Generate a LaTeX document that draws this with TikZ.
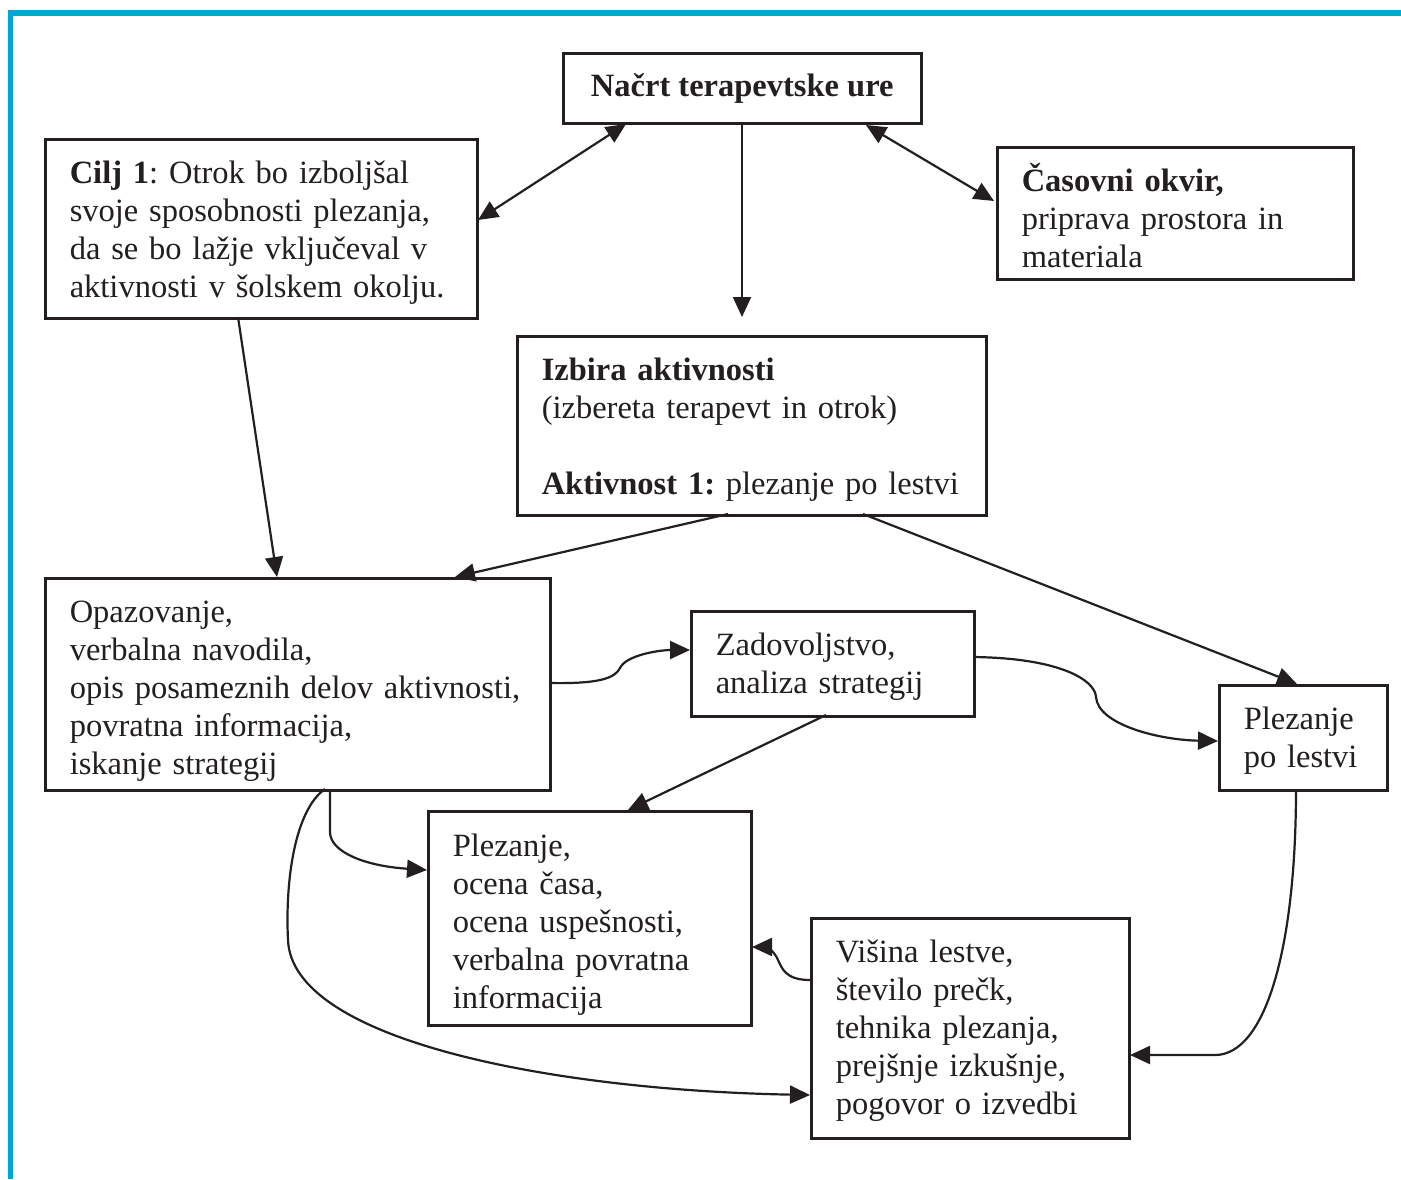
\documentclass[tikz,border=0pt]{standalone}
\usepackage{fontspec}
\setmainfont{Liberation Serif}
\usetikzlibrary{arrows.meta,calc}
\definecolor{frameblue}{RGB}{0,166,214}
\definecolor{ink}{RGB}{35,31,32}
\frenchspacing
\newcommand\myrule[1]{\rule{0pt}{#1pt}}
\begin{document}
\begin{tikzpicture}[x=1pt,y=-1pt,
  box/.style={draw=ink, line width=2.5pt, anchor=north west, inner xsep=24.5pt, inner ysep=0pt,
    align=left, font=\fontsize{32.5}{38}\selectfont, text=ink},
  conn/.style={draw=ink, line width=2.2pt, -{Triangle[length=20pt,width=18pt]}},
  both/.style={draw=ink, line width=2.2pt, {Triangle[length=20pt,width=18pt]}-{Triangle[length=20pt,width=18pt]}}
]
\useasboundingbox (0,0) rectangle (1401,1179);
\fill[white] (0,0) rectangle (1401,1179);
\draw[frameblue, line width=5.5pt] (10.5,1179) -- (10.5,13) -- (1401,13);

\node[box, align=center, minimum width=358pt, minimum height=70pt] (plan) at (562,52)
  {\textbf{Načrt terapevtske ure}};
\node[box, minimum width=432pt, minimum height=179pt, text width=383pt] (cilj) at (44,138)
  {\myrule{30.5}\textbf{Cilj 1}: Otrok bo izboljšal\\ svoje sposobnosti plezanja,\\ da se bo lažje vključeval v\\ aktivnosti v šolskem okolju.};
\node[box, minimum width=356pt, minimum height=132pt, text width=307pt] (time) at (996,146)
  {\myrule{32}\textbf{Časovni okvir,}\\ priprava prostora in\\ materiala};
\node[box, minimum width=469pt, minimum height=179pt, text width=420pt] (choice) at (516,335)
  {\myrule{31}\textbf{Izbira aktivnosti}\\ (izbereta terapevt in otrok)\\ ~\\ \textbf{Aktivnost 1:} plezanje po lestvi};
\node[box, minimum width=505pt, minimum height=212pt, text width=456pt] (obs) at (44,577)
  {\myrule{35}Opazovanje,\\ verbalna navodila,\\ opis posameznih delov aktivnosti,\\ povratna informacija,\\ iskanje strategij};
\node[box, minimum width=283pt, minimum height=105pt, text width=234pt] (sat) at (690,610)
  {\myrule{29}Zadovoljstvo,\\ analiza strategij};
\node[box, minimum width=168pt, minimum height=105pt, text width=119pt] (ladder) at (1218,684)
  {\myrule{28}Plezanje\\ po lestvi};
\node[box, minimum width=323pt, minimum height=214pt, text width=274pt] (climb) at (427,810)
  {\myrule{34.5}Plezanje,\\ ocena časa,\\ ocena uspešnosti,\\ verbalna povratna\\ informacija};
\node[box, minimum width=318pt, minimum height=220pt, text width=269pt] (high) at (810,917)
  {\myrule{27}Višina lestve,\\ število prečk,\\ tehnika plezanja,\\ prejšnje izkušnje,\\ pogovor o izvedbi};

% connectors
\draw[both] ($(cilj.north west)+(434,82)$) -- ($(plan.north west)+(64,72)$);
\draw[both] ($(plan.north west)+(304,73)$) -- ($(time.north west)+(-2,55)$);
\draw[conn] ($(plan.north west)+(180,70)$) -- ($(choice.north west)+(226,-18)$);
\draw[conn] ($(cilj.north west)+(194,179)$) -- ($(obs.north west)+(233,0)$);
\draw[conn] ($(choice.north west)+(212,179)$) -- ($(obs.north west)+(411,0)$);
\draw[conn] ($(choice.north west)+(347,179)$) -- ($(ladder.north west)+(79,0)$);
\draw[conn] ($(obs.north west)+(505,106)$) .. controls (600,684) and (615,678) .. (620,668)
  .. controls (626,655) and (660,650) .. ($(sat.north west)+(0,40)$);
\draw[conn] ($(sat.north west)+(283,47)$) .. controls (1060,658) and (1095,680) .. (1096,697)
  .. controls (1098,725) and (1160,740) .. ($(ladder.north west)+(0,57)$);
\draw[conn] ($(sat.north west)+(136,105)$) -- ($(climb.north west)+(201,0)$);
\draw[conn] ($(obs.north west)+(286,212)$) -- (330,832)
  .. controls (330,852) and (365,866) .. ($(climb.north west)+(0,60)$);
\draw[conn] ($(obs.north west)+(281,212)$) .. controls (295,810) and (285,880) .. (288,940)
  .. controls (292,1040) and (550,1090) .. ($(high.north west)+(0,178)$);
\draw[conn] ($(high.north west)+(0,63)$) .. controls (785,980) and (782,968) .. (778,960)
  .. controls (774,950) and (765,947) .. ($(climb.north west)+(325,137)$);
\draw[conn] ($(ladder.north west)+(78,105)$) .. controls (1296,950) and (1265,1055) .. (1215,1055)
  -- ($(high.north west)+(320,138)$);
\end{tikzpicture}
\end{document}
